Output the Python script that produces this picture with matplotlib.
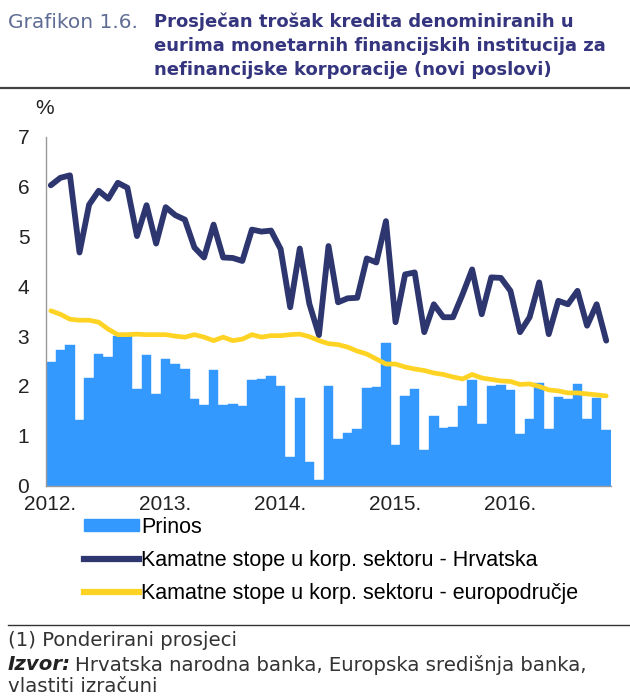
import numpy as np
import matplotlib.pyplot as plt
from matplotlib.patches import Patch
from matplotlib.lines import Line2D

# monthly data, Jan 2012 - Nov 2016
prinos = [2.48, 2.72, 2.83, 1.32, 2.16, 2.64, 2.58, 3.00, 3.00, 1.94,
          2.63, 1.84, 2.54, 2.44, 2.35, 1.74, 1.61, 2.32, 1.61, 1.63,
          1.59, 2.12, 2.14, 2.19, 2.00, 0.58, 1.76, 0.48, 0.11, 2.00,
          0.94, 1.06, 1.13, 1.96, 1.98, 2.86, 0.82, 1.79, 1.93, 0.71,
          1.40, 1.16, 1.17, 1.60, 2.12, 1.24, 2.00, 2.02, 1.91, 1.04,
          1.34, 2.06, 1.13, 1.78, 1.74, 2.04, 1.34, 1.76, 1.11]

hrvatska = [6.03, 6.18, 6.23, 4.68, 5.64, 5.92, 5.76, 6.08, 5.98, 5.01,
            5.63, 4.86, 5.59, 5.43, 5.34, 4.78, 4.58, 5.24, 4.58, 4.57,
            4.51, 5.14, 5.10, 5.12, 4.75, 3.58, 4.76, 3.65, 3.02, 4.81,
            3.68, 3.76, 3.77, 4.56, 4.48, 5.31, 3.28, 4.24, 4.28, 3.08,
            3.64, 3.38, 3.38, 3.84, 4.34, 3.44, 4.18, 4.17, 3.91, 3.08,
            3.38, 4.08, 3.04, 3.71, 3.64, 3.91, 3.21, 3.64, 2.91]

euro = [3.51, 3.44, 3.34, 3.32, 3.32, 3.28, 3.14, 3.03, 3.03, 3.04,
        3.03, 3.03, 3.03, 3.00, 2.98, 3.03, 2.98, 2.91, 2.98, 2.91,
        2.94, 3.03, 2.98, 3.01, 3.01, 3.03, 3.04, 2.99, 2.91, 2.85,
        2.83, 2.78, 2.70, 2.64, 2.54, 2.44, 2.44, 2.38, 2.34, 2.31,
        2.26, 2.23, 2.18, 2.14, 2.23, 2.16, 2.13, 2.10, 2.09, 2.03,
        2.04, 1.99, 1.92, 1.90, 1.86, 1.86, 1.84, 1.82, 1.80]

years = ["2012.", "2013.", "2014.", "2015.", "2016."]
legend_labels = ["Prinos",
                 "Kamatne stope u korp. sektoru - Hrvatska",
                 "Kamatne stope u korp. sektoru - europodručje"]
title_lines = ["Prosječan trošak kredita denominiranih u",
               "eurima monetarnih financijskih institucija za",
               "nefinancijske korporacije (novi poslovi)"]

c_bar = "#3399ff"
c_hr = "#2e3670"
c_eu = "#ffd324"

plt.rcParams['font.family'] = ['Liberation Sans', 'DejaVu Sans']

fig = plt.figure(figsize=(6.3, 6.96), dpi=100)
ax = fig.add_axes([46/630, 1 - 485.5/696, 565/630, 348.5/696])

m = np.arange(len(prinos))
ax.bar(m, prinos, width=1.0, align="edge", color=c_bar, edgecolor=c_bar, linewidth=0.3)
ax.plot(m + 0.5, hrvatska, color=c_hr, lw=4.2, solid_joinstyle="round", solid_capstyle="round")
ax.plot(m + 0.5, euro, color=c_eu, lw=3.4, solid_joinstyle="round", solid_capstyle="round")

ax.set_xlim(0, len(prinos))
ax.set_ylim(0, 7)
ax.set_yticks(range(0, 8))
ax.set_xticks([0.45, 12.45, 24.45, 36.45, 48.45])
ax.set_xticklabels(years)
ax.tick_params(axis="x", length=0, pad=7, labelsize=15, labelcolor="#222222")
ax.tick_params(axis="y", length=0, pad=12, labelsize=15, labelcolor="#222222")

for s in ["top", "right"]:
    ax.spines[s].set_visible(False)
for s in ["left", "bottom"]:
    ax.spines[s].set_color("#999999")
    ax.spines[s].set_linewidth(1.0)

fig.text(45/630, 1 - 108/696, "%", fontsize=15, ha="center", va="center", color="#222222")

# legend
handles = [Patch(facecolor=c_bar, edgecolor=c_bar),
           Line2D([], [], color=c_hr, lw=4.5),
           Line2D([], [], color=c_eu, lw=4.5)]
fig.legend(handles, legend_labels, loc="upper left", bbox_to_anchor=(84/630, 1 - 517/696),
           frameon=False, fontsize=15.5, handlelength=2.55, handleheight=0.5, handletextpad=0.1,
           labelspacing=0.56, borderaxespad=0, borderpad=0)

# title
tfont = ['DejaVu Sans']
fig.text(8/630, 1 - 22/696, "Grafikon 1.6.", fontsize=14.5, family=tfont, color="#5f6d94",
         va="center", ha="left")
for i, line in enumerate(title_lines):
    fig.text(154/630, 1 - (22 + 24*i)/696, line, fontsize=13, family=tfont, weight="bold",
             color="#34347f", va="center", ha="left")
fig.add_artist(Line2D([0, 1], [1 - 88/696, 1 - 88/696], color="#444444", lw=1.6))

# footer
ffs = 14.2
fig.add_artist(Line2D([8/630, 1], [1 - 625/696, 1 - 625/696], color="#333333", lw=1.0))
fig.text(8/630, 1 - 641/696, "(1) Ponderirani prosjeci", fontsize=ffs, family=tfont,
         color="#333333", va="center")
izv = fig.text(8/630, 1 - 665/696, "Izvor:", fontsize=ffs, family=tfont, weight="bold",
               style="italic", color="#222222", va="center")
fig.canvas.draw()
bb = izv.get_window_extent()
fig.text((bb.x1 + 4)/630, 1 - 665/696, "Hrvatska narodna banka, Europska središnja banka,",
         fontsize=ffs, family=tfont, color="#333333", va="center")
fig.text(8/630, 1 - 686/696, "vlastiti izračuni", fontsize=ffs, family=tfont,
         color="#333333", va="center")

fig.savefig("out.png", dpi=100)
